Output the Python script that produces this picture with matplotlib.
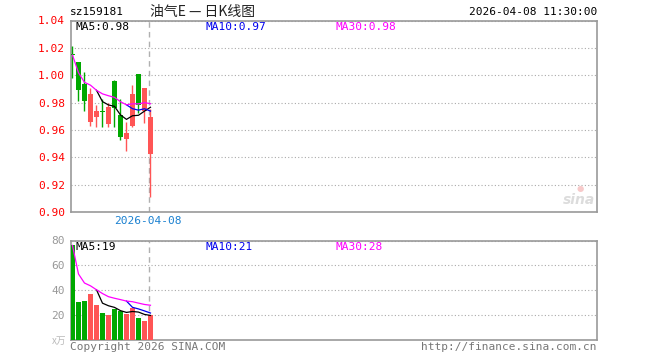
import numpy as np
import pandas as pd
import matplotlib
matplotlib.use('Agg')
import matplotlib.pyplot as plt

# daily K data (price) and volume in 万
opens   = [1.0149, 1.0100, 0.9938, 0.9661, 0.9691, 0.9737, 0.9644, 0.9960, 0.9710, 0.9534, 0.9630, 1.0011, 0.9742, 0.9424]
closes  = [1.0147, 0.9889, 0.9808, 0.9865, 0.9740, 0.9733, 0.9767, 0.9757, 0.9551, 0.9578, 0.9865, 0.9784, 0.9909, 0.9693]
highs   = [1.0217, 1.0100, 1.0021, 0.9906, 0.9784, 0.9825, 0.9796, 0.9967, 0.9825, 0.9661, 0.9931, 1.0011, 0.9909, 0.9752]
lows    = [0.9980, 0.9813, 0.9740, 0.9632, 0.9624, 0.9624, 0.9624, 0.9624, 0.9527, 0.9448, 0.9624, 0.9727, 0.9654, 0.9110]
volumes = [76.0, 29.9, 31.0, 36.6, 27.5, 21.8, 19.4, 24.5, 23.4, 20.3, 25.6, 17.0, 15.0, 19.4]

price_ticks = [0.90, 0.92, 0.94, 0.96, 0.98, 1.00, 1.02, 1.04]
vol_ticks = [20, 40, 60, 80]
code = 'sz159181'
title = '油气E — 日K线图'
stamp = '2026-04-08 11:30:00'
last_date = '2026-04-08'

RED = '#ff5555'
GREEN = '#00a800'
GRAY = '#999999'
MONO = 'DejaVu Sans Mono'
W, H = 660, 360

def fx(px):
    return px / W

def fy(py):
    return 1 - py / H

o = np.array(opens)
c = np.array(closes)
idx = np.arange(len(c))
up = c >= o
cols = np.where(up, RED, GREEN)

cs = pd.Series(closes)
vs = pd.Series(volumes)
ma = {5: cs.rolling(5).mean(), 10: cs.rolling(10).mean(), 30: cs.rolling(30, min_periods=1).mean()}
vma = {5: vs.rolling(5).mean(), 10: vs.rolling(10).mean(), 30: vs.rolling(30, min_periods=1).mean()}
ma_cols = {5: 'black', 10: '#0000ee', 30: '#ff00ff'}

fig = plt.figure(figsize=(6.6, 3.6), dpi=100)
ax = fig.add_axes([fx(70.5), fy(212), fx(597 - 70.5), (212 - 20.5) / H])
axv = fig.add_axes([fx(70.5), fy(339.5), fx(597 - 70.5), (339.5 - 240.5) / H])

xlim = (-0.33, 87.42)
vline_x = 12.67

# candles
ax.vlines(idx, lows, highs, colors=cols, lw=1, zorder=3)
body = np.maximum(np.abs(c - o), 0.0006)
ax.bar(idx, body, bottom=np.minimum(o, c), width=0.78, color=cols, zorder=4)
for n in (5, 10, 30):
    ax.plot(idx, ma[n], color=ma_cols[n], lw=0.9, zorder=5)
ax.set_xlim(*xlim)
ax.set_ylim(price_ticks[0], price_ticks[-1])
ax.set_yticks(price_ticks)
ax.set_yticklabels(['%.2f' % t for t in price_ticks], family=MONO, fontsize=8)
ax.tick_params(axis='y', length=0, labelcolor='red', pad=4)
ax.set_xticks([])
ax.grid(axis='y', linestyle=(0, (1, 2)), color='#aaaaaa', lw=0.8)
ax.axvline(vline_x, color='#b0b0b0', lw=1, linestyle=(0, (4, 3)), zorder=1)

# volume
axv.bar(idx, volumes, width=0.85, color=cols, zorder=3)
for n in (5, 10, 30):
    axv.plot(idx, vma[n], color=ma_cols[n], lw=0.9, zorder=5)
axv.set_xlim(*xlim)
axv.set_ylim(0, 80)
axv.set_yticks(vol_ticks)
axv.set_yticklabels([str(t) for t in vol_ticks], family=MONO, fontsize=8)
axv.tick_params(axis='y', length=0, labelcolor=GRAY, pad=4)
axv.set_xticks([])
axv.grid(axis='y', linestyle=(0, (1, 2)), color='#aaaaaa', lw=0.8)
axv.axvline(vline_x, color='#b0b0b0', lw=1, linestyle=(0, (4, 3)), zorder=1)

for a in (ax, axv):
    for s in a.spines.values():
        s.set_color(GRAY)
        s.set_linewidth(1.2)
    a.set_axisbelow(True)

# header
fig.text(fx(70), fy(12), code, family=MONO, fontsize=8, va='center', ha='left')
fig.text(fx(150), fy(12), title, family=['Noto Sans CJK SC', 'DejaVu Sans'], fontsize=10,
         va='center', ha='left', color='#222222')
fig.text(fx(597), fy(12), stamp, family=MONO, fontsize=8, va='center', ha='right')

# MA legends
for n, x in zip((5, 10, 30), (75, 205, 335)):
    fig.text(fx(x), fy(26.5), 'MA%d:%.2f' % (n, ma[n].iloc[-1]), family=MONO, fontsize=8,
             color=ma_cols[n], va='center', ha='left')
    fig.text(fx(x), fy(246.5), 'MA%d:%d' % (n, round(vma[n].iloc[-1])), family=MONO, fontsize=8,
             color=ma_cols[n], va='center', ha='left')

fig.text(fx(147.5), fy(220.5), last_date, family=MONO, fontsize=8, color='#1a80d0',
         va='center', ha='center')
fig.text(fx(66), fy(341), 'x万', family=['Noto Sans CJK SC', 'DejaVu Sans'], fontsize=7,
         color='#bbbbbb', va='center', ha='right')
fig.text(fx(70), fy(346.5), 'Copyright 2026 SINA.COM', family=MONO, fontsize=8,
         color='#777777', va='center', ha='left')
fig.text(fx(597), fy(346.5), 'http://finance.sina.com.cn', family=MONO, fontsize=8,
         color='#777777', va='center', ha='right')
fig.text(fx(595), fy(200), 'sina', fontsize=10, style='italic', weight='bold',
         color='#dcdcdc', va='center', ha='right')
fig.text(fx(580), fy(189), '●', fontsize=6, color='#f7caca', va='center', ha='center')

fig.savefig('out.png', dpi=100)
